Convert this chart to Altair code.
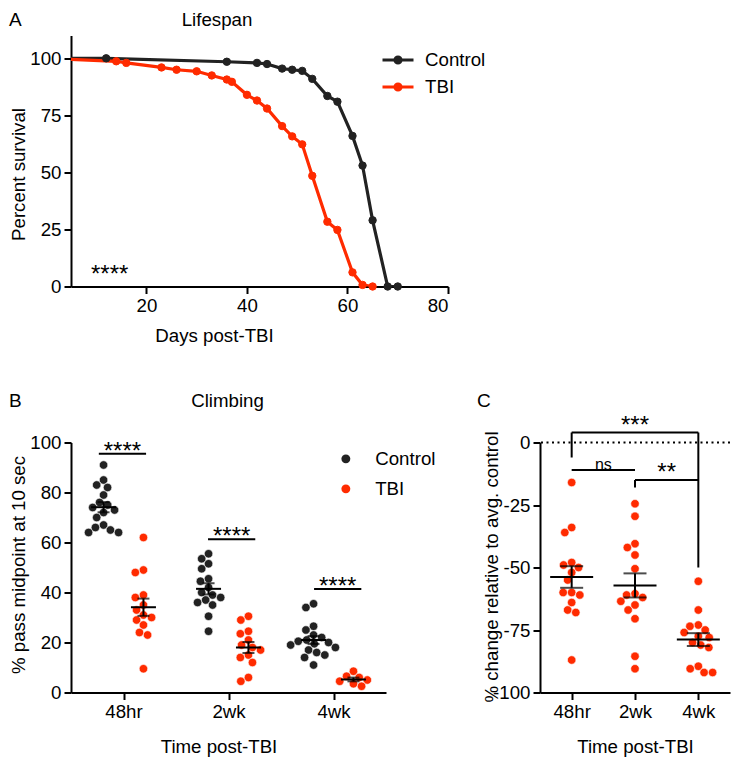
import math
import altair as alt
import pandas as pd

FONT = "Liberation Sans"
FS = 18.7
STAR_FS = 24
BLACK = "#222222"
RED = "#FF2B00"

groups = ["Control", "TBI"]
times = ["48hr", "2wk", "4wk"]

# ---------------- Panel A: lifespan (percent survival) ----------------
ctrl_days = [0, 12, 36, 42, 44, 47, 49, 51, 53, 56, 58, 61, 63, 65, 68, 70]
ctrl_surv = [100, 100, 98.5, 98, 97.5, 95.5, 95, 94.5, 91, 83.5, 81, 66, 53, 29, 0, 0]
tbi_days = [0, 14, 16, 23, 26, 30, 33, 36, 37, 40, 42, 44, 47, 49, 51, 53, 56, 58, 61, 63, 65]
tbi_surv = [100, 98.7, 98, 96, 95, 94.3, 92.5, 90.7, 89.7, 84, 81.5, 78, 70.3, 65.8,
            62.3, 48.5, 28.4, 24.8, 6.2, 0.7, 0]

# ---------------- Panel B: climbing (% pass midpoint) ----------------
ctrl_48hr = [91, 85, 83, 82, 79, 76, 75, 74, 73, 72, 70, 67, 66, 65, 64, 64]
tbi_48hr = [62, 49, 48, 39, 38, 35, 33, 31, 30, 29, 27, 24, 23, 9.5]
ctrl_2wk = [55.5, 53.5, 51.5, 49.5, 45.5, 44.5, 42, 40, 39, 38, 37, 36, 35, 30.5, 24.5]
tbi_2wk = [30.5, 29, 24.5, 23.5, 21, 19, 18, 17, 15, 14, 12, 6, 4.5]
ctrl_4wk = [35.5, 34, 26.5, 25, 23, 22, 21, 20.5, 20, 19.5, 19, 18, 17, 16, 15, 14, 11]
tbi_4wk = [8.5, 6.5, 6, 5, 4.5, 3.5, 2.5]
sigB_level = [95.5, 61.3, 41.4]
sigB_center = [0.49, 1.53, 2.54]
sigB_label = ["****", "****", "****"]

# ---------------- Panel C: % change relative to avg. control ----------------
chg_48hr = [-16, -34, -36, -48, -49, -50, -52, -55, -60, -60, -61, -64, -67, -68, -87]
chg_2wk = [-24.5, -29.5, -40.5, -42, -45, -50.5, -60.5, -61, -62, -63.5, -65, -67, -70.5,
           -85.5, -90.5]
chg_4wk = [-55.5, -67, -73, -73.5, -75, -76, -77.5, -78, -80, -81, -82, -89.5, -90.5, -92, -92]
# comparison brackets (x1, x2, y1, y2) in data units, and their labels
bracket_x1 = [0.5, 0.5, 2.5, 0.5, 1.5, 1.5]
bracket_x2 = [2.5, 0.5, 2.5, 1.5, 2.5, 1.5]
bracket_y1 = [4, 4, 4, -11, -15, -15]
bracket_y2 = [4, -6, -50, -11, -15, -18]
bracket_text = ["***", "ns", "**"]
bracket_tx = [1.5, 1.0, 2.0]
bracket_ty = [4, -11, -15]


def swarm(vals, ppu, d):
    """Beeswarm offsets (pixels) so that markers of diameter ~d do not overlap."""
    order = sorted(range(len(vals)), key=lambda i: -vals[i])
    placed = []
    offs = [0.0] * len(vals)
    for i in order:
        y = vals[i] * ppu
        cands = [0.0]
        for py, px in placed:
            dy = abs(py - y)
            if dy < d:
                dx = math.sqrt(d * d - dy * dy)
                cands.extend([px + dx, px - dx])
        cands.sort(key=lambda c: (abs(c), c))
        for c in cands:
            if all((c - px) ** 2 + (y - py) ** 2 >= d * d - 1e-6 for py, px in placed):
                offs[i] = c
                break
        placed.append((y, offs[i]))
    return offs


label_expr = "[" + ",".join("'%s'" % t for t in times) + "][floor(datum.value)]"


def note(txt, x, y, size=FS, align="left", baseline="top"):
    return alt.Chart(pd.DataFrame({"t": [txt]})).mark_text(
        font=FONT, fontSize=size, align=align, baseline=baseline, color="black"
    ).encode(text="t:N", x=alt.value(x), y=alt.value(y))


# ====================== Panel A ======================
dfA = pd.DataFrame(
    [{"series": "Control", "day": d, "surv": s} for d, s in zip(ctrl_days, ctrl_surv)]
    + [{"series": "TBI", "day": d, "surv": s} for d, s in zip(tbi_days, tbi_surv)]
)
axisAx = alt.Axis(values=[20, 40, 60, 80], title="Days post-TBI", titleX=143, titleY=40,
                  titleBaseline="top", titleAlign="center")
axisAy = alt.Axis(values=[0, 25, 50, 75, 100], title="Percent survival", titleX=-62,
                  titleY=138.5, titleAngle=-90, titleBaseline="top", titleAlign="center")
xA = alt.X("day:Q", scale=alt.Scale(domain=[5, 80], nice=False, zero=False), axis=axisAx)
yA = alt.Y("surv:Q", scale=alt.Scale(domain=[0, 110], nice=False), axis=axisAy)
scaleA = alt.Scale(domain=groups, range=[BLACK, RED])
SYM = "M-1,0H1M-0.2,0A0.2,0.2 0 1,0 0.2,0A0.2,0.2 0 1,0 -0.2,0Z"
legA = alt.Legend(title=None, orient="none", legendX=310, legendY=7.5, symbolType=SYM,
                  symbolSize=961, symbolStrokeWidth=3, symbolOpacity=1, labelFont=FONT,
                  labelFontSize=FS, labelColor="black", labelOffset=10, rowPadding=0,
                  padding=0)

lineA = alt.Chart(dfA).mark_line(clip=True, strokeWidth=3.2).encode(
    x=xA, y=yA, stroke=alt.Stroke("series:N", scale=scaleA, legend=legA), order="day:Q")
ptsA = alt.Chart(dfA).transform_filter("datum.day >= 5").mark_point(
    filled=True, size=55, strokeWidth=1, opacity=1).encode(
    x=xA, y=yA,
    fill=alt.Fill("series:N", scale=scaleA, legend=legA),
    stroke=alt.Stroke("series:N", scale=scaleA, legend=legA))

panelA = alt.layer(
    lineA, ptsA,
    note("****", 20, 239, size=STAR_FS, baseline="middle"),
    note("A", -62, -24.5, size=19),
    note("Lifespan", 146, -24.5, align="center"),
).properties(width=377, height=251)

# ====================== Panel B ======================
climb = [("48hr", "Control", ctrl_48hr), ("48hr", "TBI", tbi_48hr),
         ("2wk", "Control", ctrl_2wk), ("2wk", "TBI", tbi_2wk),
         ("4wk", "Control", ctrl_4wk), ("4wk", "TBI", tbi_4wk)]
rowsB = []
for t, g, vals in climb:
    ti = times.index(t)
    xc = ti + 0.5 + (-0.19 if g == "Control" else 0.19)
    offs = swarm(vals, 2.5, 8.5)
    for v, o in zip(vals, offs):
        rowsB.append({"time": t, "group": g, "value": v, "xc": xc, "x": xc + o / 105.0})
dfB = pd.DataFrame(rowsB)

axisBx = alt.Axis(values=[0.5, 1.5, 2.5], labelExpr=label_expr, title="Time post-TBI",
                  titleX=147.5, titleY=45, titleBaseline="top", titleAlign="center")
axisBy = alt.Axis(values=[0, 20, 40, 60, 80, 100], title="% pass midpoint at 10 sec",
                  titleX=-62, titleY=122, titleAngle=-90, titleBaseline="top",
                  titleAlign="center")
scBx = alt.Scale(domain=[0, 3], nice=False, zero=False)
scBy = alt.Scale(domain=[0, 100], nice=False)
scaleB = alt.Scale(domain=groups, range=[BLACK, RED])
legB = alt.Legend(title=None, orient="none", legendX=265.5, legendY=7, symbolType="circle",
                  symbolSize=80, symbolStrokeWidth=0, symbolOpacity=1, labelFont=FONT,
                  labelFontSize=FS, labelColor="black", labelOffset=20, rowPadding=10,
                  padding=0)

ptsB = alt.Chart(dfB).mark_circle(size=72, opacity=1, stroke="white", strokeWidth=0.6).encode(
    x=alt.X("x:Q", scale=scBx, axis=axisBx),
    y=alt.Y("value:Q", scale=scBy, axis=axisBy),
    color=alt.Color("group:N", scale=scaleB, legend=legB))
errB = alt.Chart(dfB).mark_errorbar(
    extent="stderr", orient="vertical", thickness=2, color="black",
    ticks={"size": 12, "thickness": 2, "color": "black"}).encode(
    x=alt.X("xc:Q", scale=scBx, axis=axisBx),
    y=alt.Y("value:Q", scale=scBy, axis=axisBy))
meanB = alt.Chart(dfB).mark_tick(orient="horizontal", size=25, thickness=2, color="black",
                                 opacity=1).encode(
    x=alt.X("xc:Q", scale=scBx, axis=axisBx),
    y=alt.Y("mean(value):Q", scale=scBy, axis=axisBy))
dfSigB = pd.DataFrame({"c": sigB_center, "y": sigB_level, "t": sigB_label})
dfSigB["x1"] = dfSigB["c"] - 0.225
dfSigB["x2"] = dfSigB["c"] + 0.225
sigRuleB = alt.Chart(dfSigB).mark_rule(strokeWidth=2, color="black").encode(
    x=alt.X("x1:Q", scale=scBx, axis=axisBx), x2="x2:Q",
    y=alt.Y("y:Q", scale=scBy, axis=axisBy))
sigTextB = alt.Chart(dfSigB).mark_text(font=FONT, fontSize=STAR_FS, baseline="alphabetic",
                                       dy=5, color="black").encode(
    x=alt.X("c:Q", scale=scBx, axis=axisBx),
    y=alt.Y("y:Q", scale=scBy, axis=axisBy), text="t:N")

panelB = alt.layer(
    ptsB, errB, meanB, sigRuleB, sigTextB,
    note("B", -62, -50.4, size=19),
    note("Climbing", 156.5, -50.4, align="center"),
).properties(width=315, height=250)

# ====================== Panel C ======================
rowsC = []
for t, vals in (("48hr", chg_48hr), ("2wk", chg_2wk), ("4wk", chg_4wk)):
    xc = times.index(t) + 0.5
    offs = swarm(vals, 2.5, 8.5)
    for v, o in zip(vals, offs):
        rowsC.append({"time": t, "value": v, "xc": xc, "x": xc + o / 63.3})
dfC = pd.DataFrame(rowsC)

axisCx = alt.Axis(values=[0.5, 1.5, 2.5], labelExpr=label_expr, title="Time post-TBI",
                  titleY=45, titleBaseline="top", titleAlign="center")
axisCy = alt.Axis(values=[0, -25, -50, -75, -100], title="% change relative to avg. control",
                  labelExpr="datum.value < 0 ? '-' + abs(datum.value) : '' + datum.value",
                  titleX=-58, titleY=124, titleAngle=-90, titleBaseline="top",
                  titleAlign="center")
scCx = alt.Scale(domain=[0, 3], nice=False, zero=False)
scCy = alt.Scale(domain=[-100, 0], nice=False)

zeroC = alt.Chart(pd.DataFrame({"z": [0]})).mark_rule(
    strokeDash=[2, 3.5], strokeWidth=2, color="black").encode(
    y=alt.Y("z:Q", scale=scCy, axis=axisCy))
ptsC = alt.Chart(dfC).mark_circle(size=72, opacity=1, color=RED, stroke="white",
                                  strokeWidth=0.6).encode(
    x=alt.X("x:Q", scale=scCx, axis=axisCx),
    y=alt.Y("value:Q", scale=scCy, axis=axisCy))
errC = alt.Chart(dfC).mark_errorbar(
    extent="stderr", orient="vertical", thickness=2, color="black",
    ticks={"size": 23, "thickness": 2, "color": "black"}).encode(
    x=alt.X("xc:Q", scale=scCx, axis=axisCx),
    y=alt.Y("value:Q", scale=scCy, axis=axisCy))
meanC = alt.Chart(dfC).mark_tick(orient="horizontal", size=43, thickness=2, color="black",
                                 opacity=1).encode(
    x=alt.X("xc:Q", scale=scCx, axis=axisCx),
    y=alt.Y("mean(value):Q", scale=scCy, axis=axisCy))
dfBr = pd.DataFrame({"x1": bracket_x1, "x2": bracket_x2, "y1": bracket_y1, "y2": bracket_y2})
bracketC = alt.Chart(dfBr).mark_rule(strokeWidth=2, color="black").encode(
    x=alt.X("x1:Q", scale=scCx, axis=axisCx), x2="x2:Q",
    y=alt.Y("y1:Q", scale=scCy, axis=axisCy), y2="y2:Q")
dfBt = pd.DataFrame({"x": bracket_tx, "y": bracket_ty, "t": bracket_text,
                     "dy": [5, -4, 5], "fs": [STAR_FS, 16, STAR_FS]})
bracketTextC = alt.Chart(dfBt).mark_text(font=FONT, baseline="alphabetic", color="black").encode(
    x=alt.X("x:Q", scale=scCx, axis=axisCx),
    y=alt.Y("y:Q", scale=scCy, axis=axisCy),
    yOffset=alt.YOffset("dy:Q", scale=None),
    size=alt.Size("fs:Q", scale=None, legend=None),
    text="t:N")

panelC = alt.layer(
    zeroC, ptsC, errC, meanC, bracketC, bracketTextC,
    note("C", -63, -50.4, size=19),
).properties(width=190, height=250)

indep = dict(color="independent", fill="independent", stroke="independent")
bottom = alt.hconcat(panelB, panelC, spacing=154, bounds="flush").resolve_scale(
    **indep).resolve_legend(**indep)
chart = alt.vconcat(
    panelA, bottom, spacing=156, bounds="flush",
).resolve_scale(**indep).resolve_legend(**indep).properties(
    padding={"top": 2.5, "left": 0, "right": 0, "bottom": 0}
).configure_axis(
    domainColor="black", domainWidth=2, tickColor="black", tickWidth=2, tickSize=7,
    labelFont=FONT, labelFontSize=FS, labelColor="black", labelPadding=3,
    titleFont=FONT, titleFontSize=FS, titleFontWeight="normal", titleColor="black",
    grid=False,
).configure_view(stroke=None)

chart.save("out.html", embed_options={"renderer": "svg", "actions": False})
